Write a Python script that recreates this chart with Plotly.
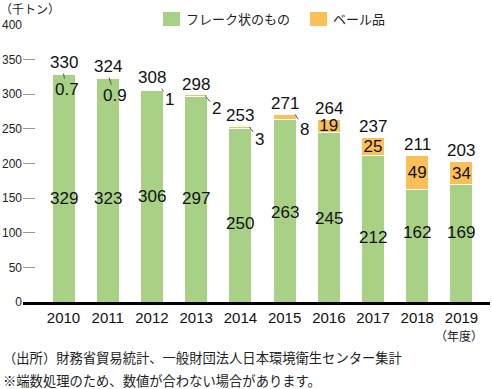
import plotly.graph_objects as go

# ---- data ----
years = ["2010", "2011", "2012", "2013", "2014", "2015", "2016", "2017", "2018", "2019"]
flake = [329, 323, 306, 297, 250, 263, 245, 212, 162, 169]
bale = [0.7, 0.9, 1, 2, 3, 8, 19, 25, 49, 34]
totals = [330, 324, 308, 298, 253, 271, 264, 237, 211, 203]
flake_label_text = ["329", "323", "306", "297", "250", "263", "245", "212", "162", "169"]
bale_label_text = ["0.7", "0.9", "1", "2", "3", "8", "19", "25", "49", "34"]
total_label_text = ["330", "324", "308", "298", "253", "271", "264", "237", "211", "203"]
y_ticks = [0, 50, 100, 150, 200, 250, 300, 350, 400]

# ---- layout / label placement (styles, not data) ----
W, H = 492, 389
L, R, T, B = 23, 490, 25, 302
flake_label_pos = [151.6, 151.6, 154.5, 150.2, 115.5, 131.4, 122.7, 95.3, 102.5, 102.5]
# small bale labels: (anchor dx in category units, text offset ax, ay in px)
small_callouts = {0: (0.0, 3, 16), 1: (0.03, 6, 18), 2: (0.22, 8, 11),
                  3: (0.2, 11, 13), 4: (0.2, 10, 13), 5: (0.24, 9, 15)}

GREEN = "#a9d186"
ORANGE = "#fbbf58"
NUM_FONT = "Liberation Sans, Arial, Noto Sans CJK JP"
JP_FONT = "Noto Sans CJK JP, Liberation Sans"

def xp(px):
    return (px - L) / (R - L)

def yp(py):
    return (B - py) / (B - T)

xs = list(range(len(years)))
bale_text = [t if v >= 10 else "" for t, v in zip(bale_label_text, bale)]

fig = go.Figure()
fig.add_trace(go.Bar(x=xs, y=flake, name="フレーク状のもの",
                     marker=dict(color=GREEN, line=dict(color="white", width=1)),
                     width=0.52, showlegend=False, hoverinfo="skip"))
fig.add_trace(go.Bar(x=xs, y=bale, name="ベール品",
                     marker=dict(color=ORANGE, line=dict(color="white", width=1)),
                     width=0.52, showlegend=False, hoverinfo="skip",
                     text=bale_text, textposition="inside", insidetextanchor="middle",
                     textangle=0, cliponaxis=False,
                     textfont=dict(family=NUM_FONT, size=17, color="#111")))

ann = []
for i in xs:
    ann.append(dict(x=i, y=flake_label_pos[i], text=flake_label_text[i], showarrow=False,
                    xref="x", yref="y", yanchor="middle", yshift=-1,
                    font=dict(family=NUM_FONT, size=17, color="#111")))
    ann.append(dict(x=i, y=totals[i], text=total_label_text[i], showarrow=False,
                    xref="x", yref="y", yanchor="middle", yshift=11,
                    font=dict(family=NUM_FONT, size=17, color="#111")))
    if i in small_callouts:
        dx, ax, ay = small_callouts[i]
        ann.append(dict(x=i + dx, y=totals[i], text=bale_label_text[i], showarrow=True,
                        arrowhead=0, arrowwidth=0.8, arrowcolor="#333",
                        ax=ax, ay=ay, xref="x", yref="y",
                        font=dict(family=NUM_FONT, size=17, color="#111")))

# axis title, units, legend, footnotes
ann.append(dict(x=xp(-2), y=yp(8), xref="paper", yref="paper", text="（千トン）",
                showarrow=False, xanchor="left", yanchor="middle",
                font=dict(family=JP_FONT, size=12, color="#222")))
ann.append(dict(x=xp(459), y=yp(335), xref="paper", yref="paper", text="（年度）",
                showarrow=False, xanchor="center", yanchor="middle",
                font=dict(family=JP_FONT, size=12, color="#222")))
ann.append(dict(x=xp(184), y=yp(19), xref="paper", yref="paper", text="フレーク状のもの",
                showarrow=False, xanchor="left", yanchor="middle",
                font=dict(family=JP_FONT, size=13, color="#222")))
ann.append(dict(x=xp(331), y=yp(19), xref="paper", yref="paper", text="ベール品",
                showarrow=False, xanchor="left", yanchor="middle",
                font=dict(family=JP_FONT, size=13, color="#222")))
ann.append(dict(x=xp(1), y=yp(357), xref="paper", yref="paper",
                text="（出所）財務省貿易統計、一般財団法人日本環境衛生センター集計",
                showarrow=False, xanchor="left", yanchor="middle",
                font=dict(family=JP_FONT, size=13.3, color="#222")))
ann.append(dict(x=xp(1), y=yp(380), xref="paper", yref="paper",
                text="※端数処理のため、数値が合わない場合があります。",
                showarrow=False, xanchor="left", yanchor="middle",
                font=dict(family=JP_FONT, size=13.3, color="#222")))

shapes = [
    dict(type="rect", xref="paper", yref="paper", x0=xp(163), x1=xp(180), y0=yp(26), y1=yp(12),
         fillcolor=GREEN, line=dict(width=0)),
    dict(type="rect", xref="paper", yref="paper", x0=xp(310), x1=xp(327), y0=yp(26), y1=yp(12),
         fillcolor=ORANGE, line=dict(width=0)),
]

fig.update_layout(
    barmode="stack", width=W, height=H,
    margin=dict(l=L, r=W - R, t=T, b=H - B, pad=0, autoexpand=False),
    plot_bgcolor="white", paper_bgcolor="white",
    annotations=ann, shapes=shapes,
    uniformtext=dict(minsize=17, mode="show"),
    xaxis=dict(range=[-0.916, 9.645], tickvals=xs, ticktext=years, showgrid=False,
               zeroline=False, showline=True, linecolor="black", linewidth=2.5,
               ticks="", tickfont=dict(family=NUM_FONT, size=15, color="#111"),
               fixedrange=True),
    yaxis=dict(range=[0, 400], tickvals=y_ticks, showgrid=False, zeroline=False,
               showline=False, ticks="inside", ticklen=12, tickwidth=1.2, tickcolor="#999",
               tickfont=dict(family=NUM_FONT, size=12, color="#222"), fixedrange=True),
)

fig.write_html("out.html", config={"displayModeBar": False},
               post_script="document.body.style.margin='0';document.body.style.overflow='hidden';")
